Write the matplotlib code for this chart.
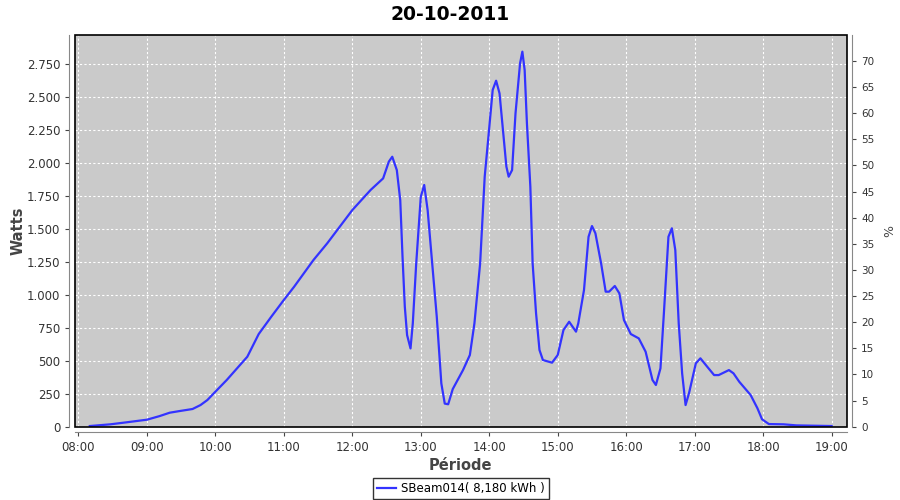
import matplotlib
matplotlib.use("Agg")
import matplotlib.pyplot as plt
from matplotlib.patches import Rectangle
from matplotlib.ticker import FuncFormatter

# Readings taken off the reference chart
times = [
    "08:10", "08:28", "08:42", "09:00", "09:11", "09:20", "09:29", "09:40", "09:47", "09:53",
    "10:00", "10:10", "10:19", "10:28", "10:38", "10:49", "11:00", "11:09", "11:26", "11:38",
    "11:49", "12:00", "12:16", "12:27", "12:32", "12:35", "12:39", "12:42", "12:44", "12:46",
    "12:48", "12:51", "12:53", "12:56", "13:00", "13:03", "13:06", "13:10", "13:14", "13:18",
    "13:21", "13:24", "13:28", "13:37", "13:43", "13:47", "13:52", "13:56", "13:59", "14:03",
    "14:06", "14:09", "14:12", "14:15", "14:17", "14:20", "14:23", "14:27", "14:29", "14:31",
    "14:33", "14:36", "14:38", "14:41", "14:44", "14:47", "14:55", "15:00", "15:05", "15:10",
    "15:16", "15:18", "15:23", "15:27", "15:30", "15:33", "15:38", "15:42", "15:45", "15:50",
    "15:54", "15:58", "16:04", "16:11", "16:17", "16:23", "16:26", "16:30", "16:33", "16:37",
    "16:40", "16:43", "16:46", "16:49", "16:52", "16:55", "17:01", "17:05", "17:11", "17:17",
    "17:21", "17:30", "17:34", "17:39", "17:49", "17:55", "17:59", "18:05", "18:18", "18:29",
    "19:00",
]
watts = [
    5, 18, 33, 53, 80, 106, 119, 134, 164, 202,
    265, 354, 442, 530, 702, 833, 960, 1060, 1263, 1389,
    1515, 1641, 1793, 1881, 2008, 2045, 1944, 1717, 1288, 909,
    694, 593, 783, 1237, 1742, 1831, 1641, 1237, 833, 328,
    175, 170, 285, 429, 543, 783, 1237, 1894, 2172, 2551,
    2621, 2525, 2247, 1970, 1894, 1944, 2374, 2753, 2841, 2702,
    2298, 1818, 1237, 859, 581, 505, 485, 543, 732, 795,
    720, 783, 1035, 1439, 1520, 1465, 1237, 1023, 1023, 1066,
    1010, 808, 702, 669, 568, 354, 316, 442, 859, 1439,
    1503, 1338, 783, 404, 164, 253, 480, 518, 454, 391,
    391, 429, 404, 341, 240, 139, 56, 20, 18, 10,
    5,
]
hour_ticks = ["08:00", "09:00", "10:00", "11:00", "12:00", "13:00",
              "14:00", "15:00", "16:00", "17:00", "18:00", "19:00"]
watt_ticks = list(range(0, 3000, 250))
pct_ticks = list(range(0, 75, 5))


def to_hours(s):
    h, m = s.split(":")
    return int(h) + int(m) / 60.0


x = [to_hours(t) for t in times]

fig = plt.figure(figsize=(9, 5), dpi=100)
ax = fig.add_axes([0.0833, 0.1466, 0.8575, 0.7828])
ax.set_facecolor("#cacaca")

ax.plot(x, watts, color="#3333ff", linewidth=1.6)

ax.set_xlim(7.95, 19.22)
ax.set_ylim(0, 2965)
ax.set_xticks([to_hours(t) for t in hour_ticks])
ax.set_xticklabels(hour_ticks)
ax.set_yticks(watt_ticks)
ax.yaxis.set_major_formatter(FuncFormatter(lambda v, p: f"{v:,.0f}".replace(",", ".")))
ax.grid(True, color="white", linestyle=(0, (2, 2)), linewidth=0.8)

# JFreeChart-style offset axis lines plus a black plot border
for side in ["left", "bottom"]:
    ax.spines[side].set_position(("outward", 4))
    ax.spines[side].set_color("#888888")
for side in ["top", "right"]:
    ax.spines[side].set_visible(False)
ax.add_patch(Rectangle((0, 0), 1, 1, transform=ax.transAxes, fill=False,
                       edgecolor="black", linewidth=1.2, clip_on=False, zorder=5))

ax.tick_params(axis="both", labelsize=8.5, colors="#444444", length=3, width=0.8,
               labelcolor="#333333")
ax.set_xlabel("Période", fontsize=10.5, fontweight="bold", color="#444444", labelpad=3)
ax.set_ylabel("Watts", fontsize=10.5, fontweight="bold", color="#444444", labelpad=1)
fig.text(0.5, 0.972, "20-10-2011", fontsize=13.5, fontweight="bold",
         ha="center", va="center")

ax2 = ax.twinx()
ax2.set_ylim(0, 74.9)
ax2.set_yticks(pct_ticks)
for side in ["left", "bottom", "top"]:
    ax2.spines[side].set_visible(False)
ax2.spines["right"].set_position(("outward", 4))
ax2.spines["right"].set_color("#888888")
ax2.tick_params(axis="y", labelsize=7.5, colors="#444444", length=3, width=0.8,
                labelcolor="#333333")
ax2.set_ylabel("%", fontsize=9, color="#444444", labelpad=6)

leg = ax.legend(["SBeam014( 8,180 kWh )"], loc="upper center",
                bbox_to_anchor=(0.5, -0.115), frameon=True, fancybox=False,
                fontsize=8.5, handlelength=1.6, borderpad=0.35, handletextpad=0.4)
leg.get_frame().set_edgecolor("black")
leg.get_frame().set_linewidth(1.0)

fig.savefig("out.png", dpi=100)
